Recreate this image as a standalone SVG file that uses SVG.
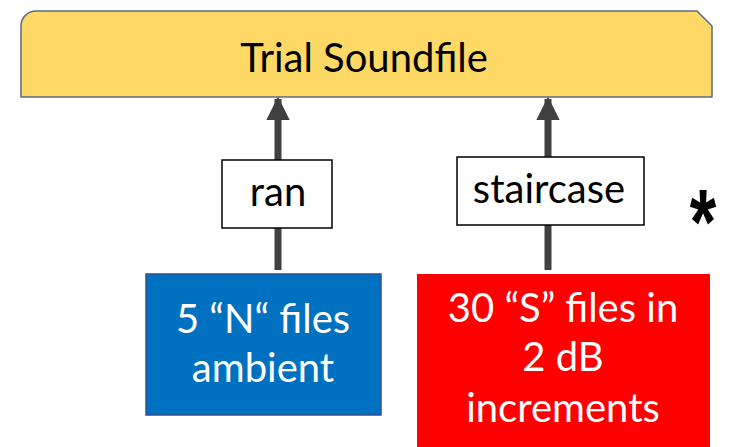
<svg xmlns="http://www.w3.org/2000/svg" width="730" height="447" viewBox="0 0 730 447">
<style>
text{font-family:Lato,"Liberation Sans",sans-serif;text-anchor:middle}
.big{font-size:40px}
.dark{fill:#000}
.light{fill:#fff}
.conn{stroke:#404040;stroke-width:7;fill:none}
.label{fill:#fff;stroke:#000;stroke-width:1.5}
</style>
<defs>
<marker id="ah" viewBox="0 0 10 10" refX="9" refY="5" markerWidth="3.4" markerHeight="3.4" orient="auto" markerUnits="strokeWidth">
<path d="M0,0 L10,5 L0,10 z" fill="#404040"/>
</marker>
</defs>
<rect width="730" height="447" fill="#fff"/>
<g id="trial">
<path d="M36,11 H697 L712,26 V97 H21 V26 A15,15 0 0 1 36,11 Z" fill="#FFD966" stroke="#5B6B85" stroke-width="1.5"/>
<text class="big dark" x="364" y="72">Trial Soundfile</text>
</g>
<g id="connectors">
<line class="conn" x1="278" y1="270" x2="278" y2="99" marker-end="url(#ah)"/>
<line class="conn" x1="548" y1="270" x2="548" y2="99" marker-end="url(#ah)"/>
</g>
<g id="ran">
<rect class="label" x="222" y="160" width="110" height="68"/>
<text class="big dark" x="278" y="206">ran</text>
</g>
<g id="staircase">
<rect class="label" x="457" y="157" width="187" height="68"/>
<text class="big dark" x="549" y="203">staircase</text>
</g>
<g id="star">
<text x="703" y="254" style="font-family:'Liberation Sans',sans-serif;font-size:68px;font-weight:bold" transform="translate(703 254) scale(1 1.35) translate(-703 -254)" class="dark">*</text>
</g>
<g id="noise">
<rect x="146" y="274" width="235" height="141" fill="#0070C0" stroke="#2F528F" stroke-width="1.5"/>
<text class="big light" x="263" y="333">5 “N“ files</text>
<text class="big light" x="263" y="382">ambient</text>
</g>
<g id="signal">
<rect x="417" y="274" width="293" height="173" fill="#FF0000"/>
<text class="big light" x="563" y="322">30 “S” files in</text>
<text class="big light" x="563" y="371">2 dB</text>
<text class="big light" x="563" y="422">increments</text>
</g>
</svg>
